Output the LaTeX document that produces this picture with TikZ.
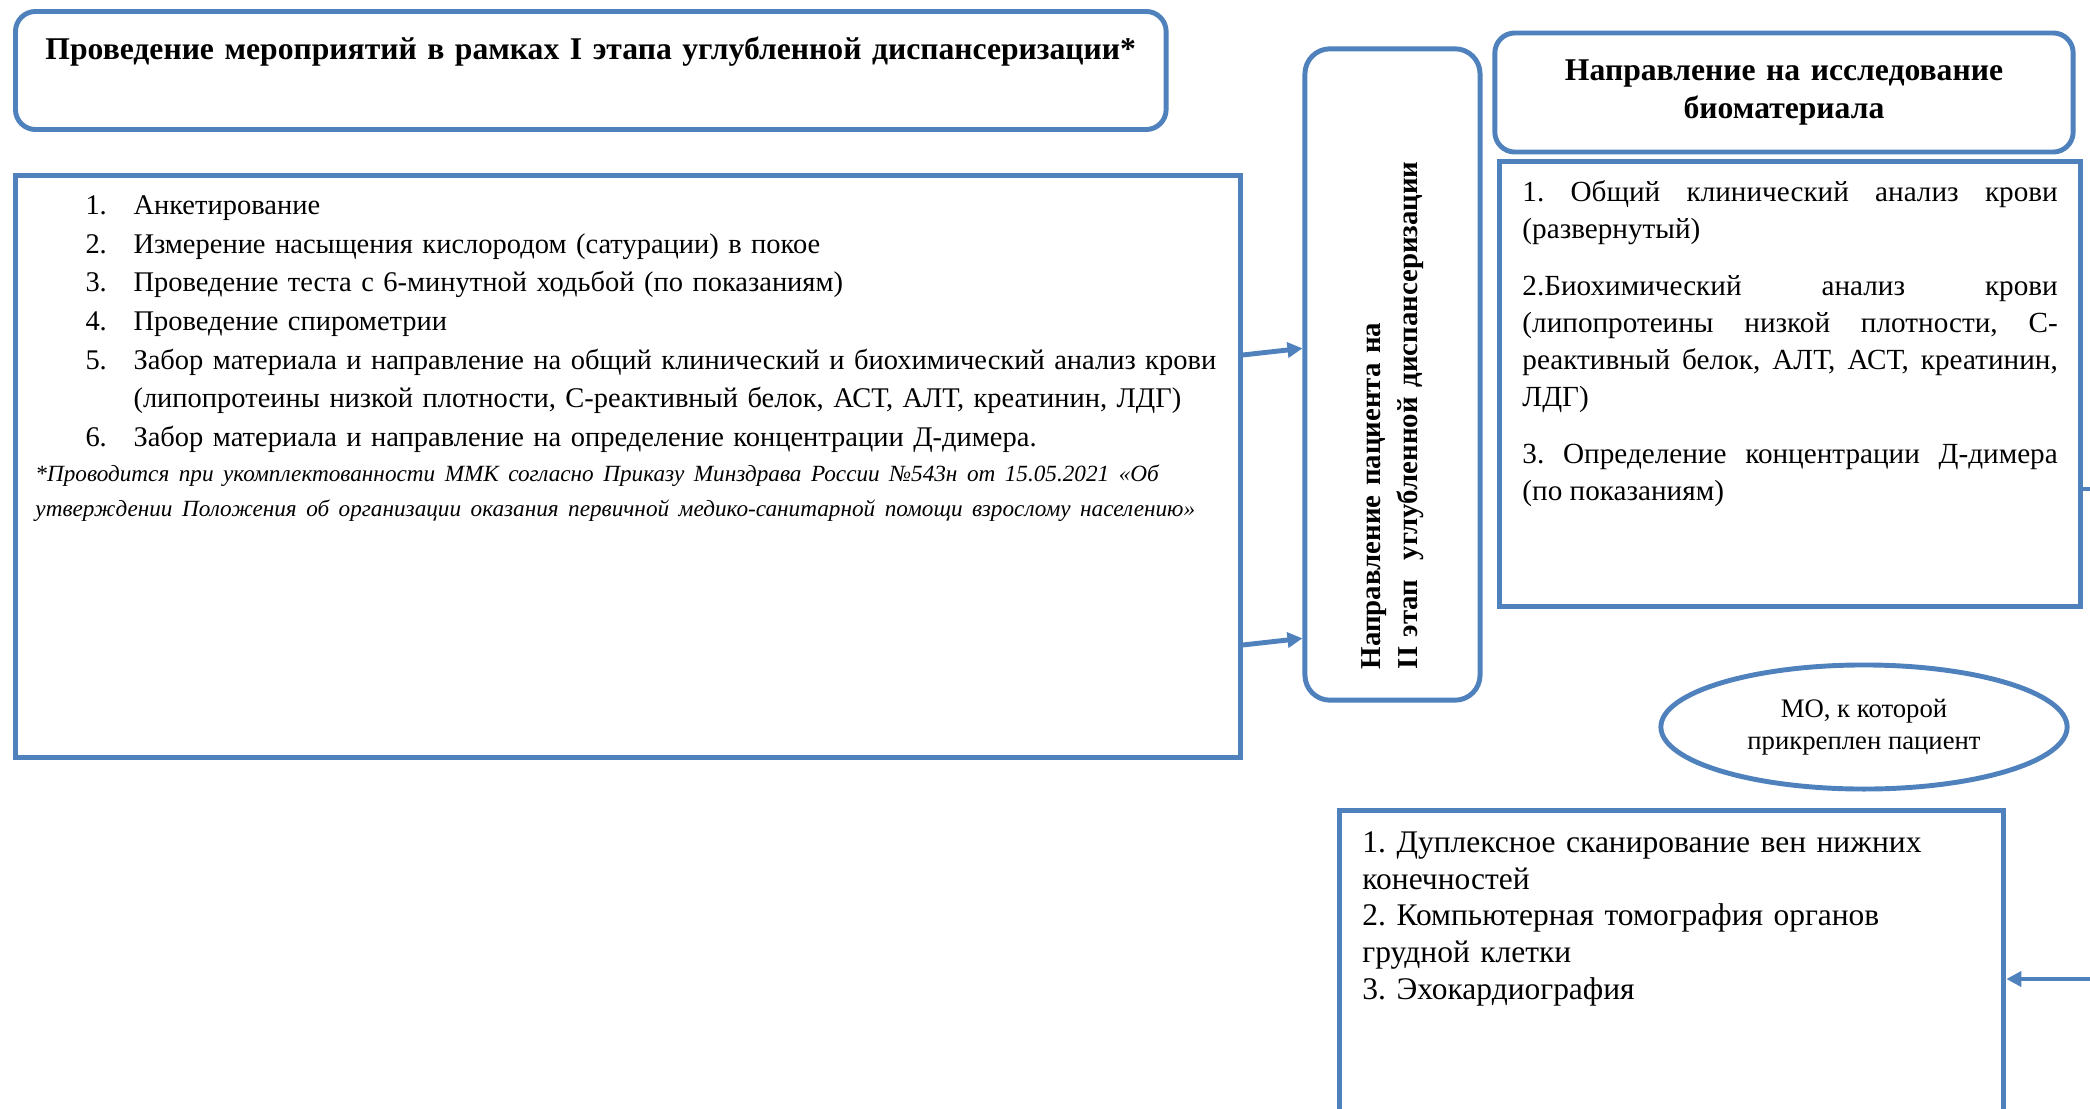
\documentclass[tikz,border=0pt]{standalone}
\usepackage{fontspec}
\setmainfont{Liberation Serif}
\usepackage{tikz}
\usetikzlibrary{positioning, shapes.geometric, arrows.meta, calc}
\definecolor{boxblue}{RGB}{79, 129, 189}
\hyphenpenalty=10000
\frenchspacing

\begin{document}
\begin{tikzpicture}[x=0.01cm, y=-0.01cm,
  every node/.style={font=\fontsize{8.1}{11}\selectfont},
  roundbox/.style={draw=boxblue, line width=1.4pt},
  plainbox/.style={draw=boxblue, line width=1.4pt},
  wire/.style={draw=boxblue, line width=1.4pt},
  link/.style={wire, -{Triangle[length=0.15cm, width=0.15cm]}}]
\clip (0,0) rectangle (2090,1109);

% I этап
\node[roundbox, rounded corners=0.2cm, anchor=north west, inner sep=0pt, text width=11.5cm, text height=0.48cm, text depth=0.70cm, align=center, font=\fontsize{9}{11}\selectfont\bfseries] (stage1) at (13,9) {Проведение мероприятий в рамках I этапа углубленной диспансеризации*};
\node[plainbox, anchor=north west, inner xsep=0.2cm, inner ysep=0pt, text width=11.84cm, text height=0.39cm, text depth=5.43cm, align=left] (list) at (13,173) {%
\hspace*{0.5cm}\makebox[0.48cm][l]{1.}Анкетирование\\
\hspace*{0.5cm}\makebox[0.48cm][l]{2.}Измерение насыщения кислородом (сатурации) в покое\\
\hspace*{0.5cm}\makebox[0.48cm][l]{3.}Проведение теста с 6-минутной ходьбой (по показаниям)\\
\hspace*{0.5cm}\makebox[0.48cm][l]{4.}Проведение спирометрии\\
\hspace*{0.5cm}\makebox[0.48cm][l]{5.}Забор материала и направление на общий клинический и биохимический анализ крови\\
\hspace*{0.98cm}(липопротеины низкой плотности, С-реактивный белок, АСТ, АЛТ, креатинин, ЛДГ)\\
\hspace*{0.5cm}\makebox[0.48cm][l]{6.}Забор материала и направление на определение концентрации Д-димера.\\[-1pt]
\parbox[t]{11.84cm}{\fontsize{6.6}{10}\selectfont\itshape *Проводится при укомплектованности ММК согласно Приказу Минздрава России №543н от 15.05.2021 «Об\linebreak утверждении Положения об организации оказания первичной медико-санитарной помощи взрослому населению»}};

% II этап
\node[roundbox, rounded corners=0.25cm, rotate=90, inner xsep=0.31cm, text width=5.89cm, minimum height=1.75cm, align=left, font=\fontsize{8.2}{10.5}\selectfont\bfseries] (stage2) at (1392.5,374.5) {Направление пациента на\\II этап\ \ углубленной диспансеризации};
\draw[link] ($(list.north east)+(0,182)$) -- ($(stage2.north east)+(0,302)$);
\draw[link] ($(list.north east)+(0,472)$) -- ($(stage2.north east)+(0,592)$);

% биоматериал
\node[roundbox, rounded corners=0.2cm, minimum width=5.78cm, minimum height=1.19cm, text width=5.5cm, align=center, font=\fontsize{9}{11}\selectfont\bfseries] (biohead) at (1784,92.5) {Направление на исследование\\биоматериала};
\node[plainbox, anchor=north west, inner xsep=0.23cm, inner ysep=0pt, text width=5.35cm, text height=0.40cm, text depth=4.05cm, align=justify, font=\fontsize{8.3}{10.5}\selectfont] (bio) at (1497,159) {1. Общий клинический анализ крови\linebreak (развернутый)\\[5.7pt]
2.Биохимический анализ крови\linebreak (липопротеины низкой плотности, С-\linebreak реактивный белок, АЛТ, АСТ, креатинин,\linebreak ЛДГ)\\[5.7pt]
3. Определение концентрации Д-димера\linebreak (по показаниям)};
\coordinate (bioout) at (2090,489);
\draw[wire] (bio.east |- bioout) -- (bioout);

% МО
\node[draw=boxblue, line width=1.4pt, ellipse, minimum width=4.06cm, minimum height=1.24cm, inner sep=0pt, align=center, font=\fontsize{7.6}{9}\selectfont] (mo) at (1864,727) {МО, к которой\\прикреплен пациент};
\node[plainbox, anchor=north west, inner xsep=0.23cm, inner ysep=0pt, text width=6.18cm, text height=0.42cm, text depth=2.80cm, align=left, font=\fontsize{8.95}{10.45}\selectfont] (exam) at (1337,808) {1. Дуплексное сканирование вен нижних\\конечностей\\2. Компьютерная томография органов\\грудной клетки\\3. Эхокардиография};
\coordinate (examin) at (2090,979);
\draw[link] (examin) -- (exam.east |- examin);
\end{tikzpicture}
\end{document}
